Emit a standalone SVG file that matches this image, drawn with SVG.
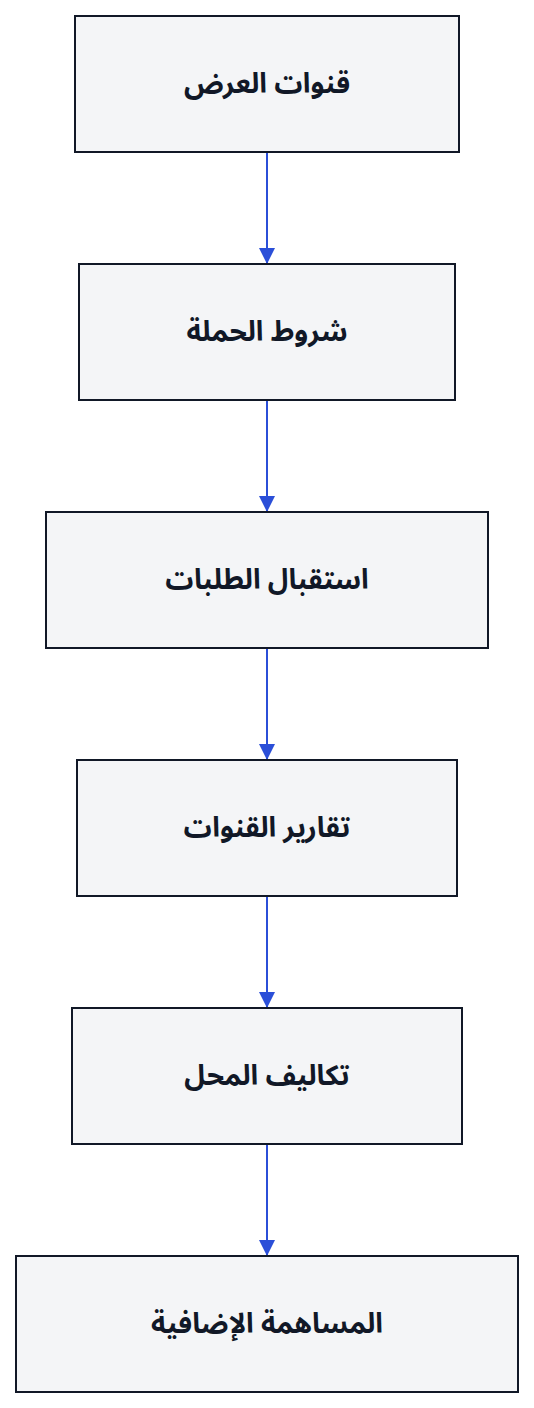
<svg xmlns="http://www.w3.org/2000/svg" width="534" height="1408" viewBox="0 0 534 1408">
<style>
.box{fill:#f4f5f7;stroke:#111827;stroke-width:2}
.lbl{font-family:"Noto Sans Arabic","Noto Sans Arabic UI","Noto Sans","DejaVu Sans",sans-serif;font-weight:bold;font-size:28px;fill:#111827;text-anchor:middle;dominant-baseline:central}
.edge{stroke:#2b4fd8;stroke-width:2;fill:none}
</style>
<defs>
<marker id="arr" viewBox="0 0 16 16" refX="16" refY="8" markerWidth="16" markerHeight="16" markerUnits="userSpaceOnUse" orient="auto">
<path d="M0,0 L16,8 L0,16 Z" fill="#2b4fd8"/>
</marker>
</defs>
<rect width="534" height="1408" fill="#ffffff"/>
<g id="connectors">
<line class="edge" x1="267" y1="152" x2="267" y2="264" marker-end="url(#arr)"/>
<line class="edge" x1="267" y1="400" x2="267" y2="512" marker-end="url(#arr)"/>
<line class="edge" x1="267" y1="648" x2="267" y2="760" marker-end="url(#arr)"/>
<line class="edge" x1="267" y1="896" x2="267" y2="1008" marker-end="url(#arr)"/>
<line class="edge" x1="267" y1="1144" x2="267" y2="1256" marker-end="url(#arr)"/>
</g>
<g id="n1"><rect class="box" x="75" y="16" width="384" height="136"/><text class="lbl" x="267" y="84" direction="rtl">قنوات العرض</text></g>
<g id="n2"><rect class="box" x="79" y="264" width="376" height="136"/><text class="lbl" x="267" y="332" direction="rtl">شروط الحملة</text></g>
<g id="n3"><rect class="box" x="46" y="512" width="442" height="136"/><text class="lbl" x="267" y="580" direction="rtl">استقبال الطلبات</text></g>
<g id="n4"><rect class="box" x="77" y="760" width="380" height="136"/><text class="lbl" x="267" y="828" direction="rtl">تقارير القنوات</text></g>
<g id="n5"><rect class="box" x="72" y="1008" width="390" height="136"/><text class="lbl" x="267" y="1076" direction="rtl">تكاليف المحل</text></g>
<g id="n6"><rect class="box" x="16" y="1256" width="502" height="136"/><text class="lbl" x="267" y="1324" direction="rtl">المساهمة الإضافية</text></g>
</svg>
